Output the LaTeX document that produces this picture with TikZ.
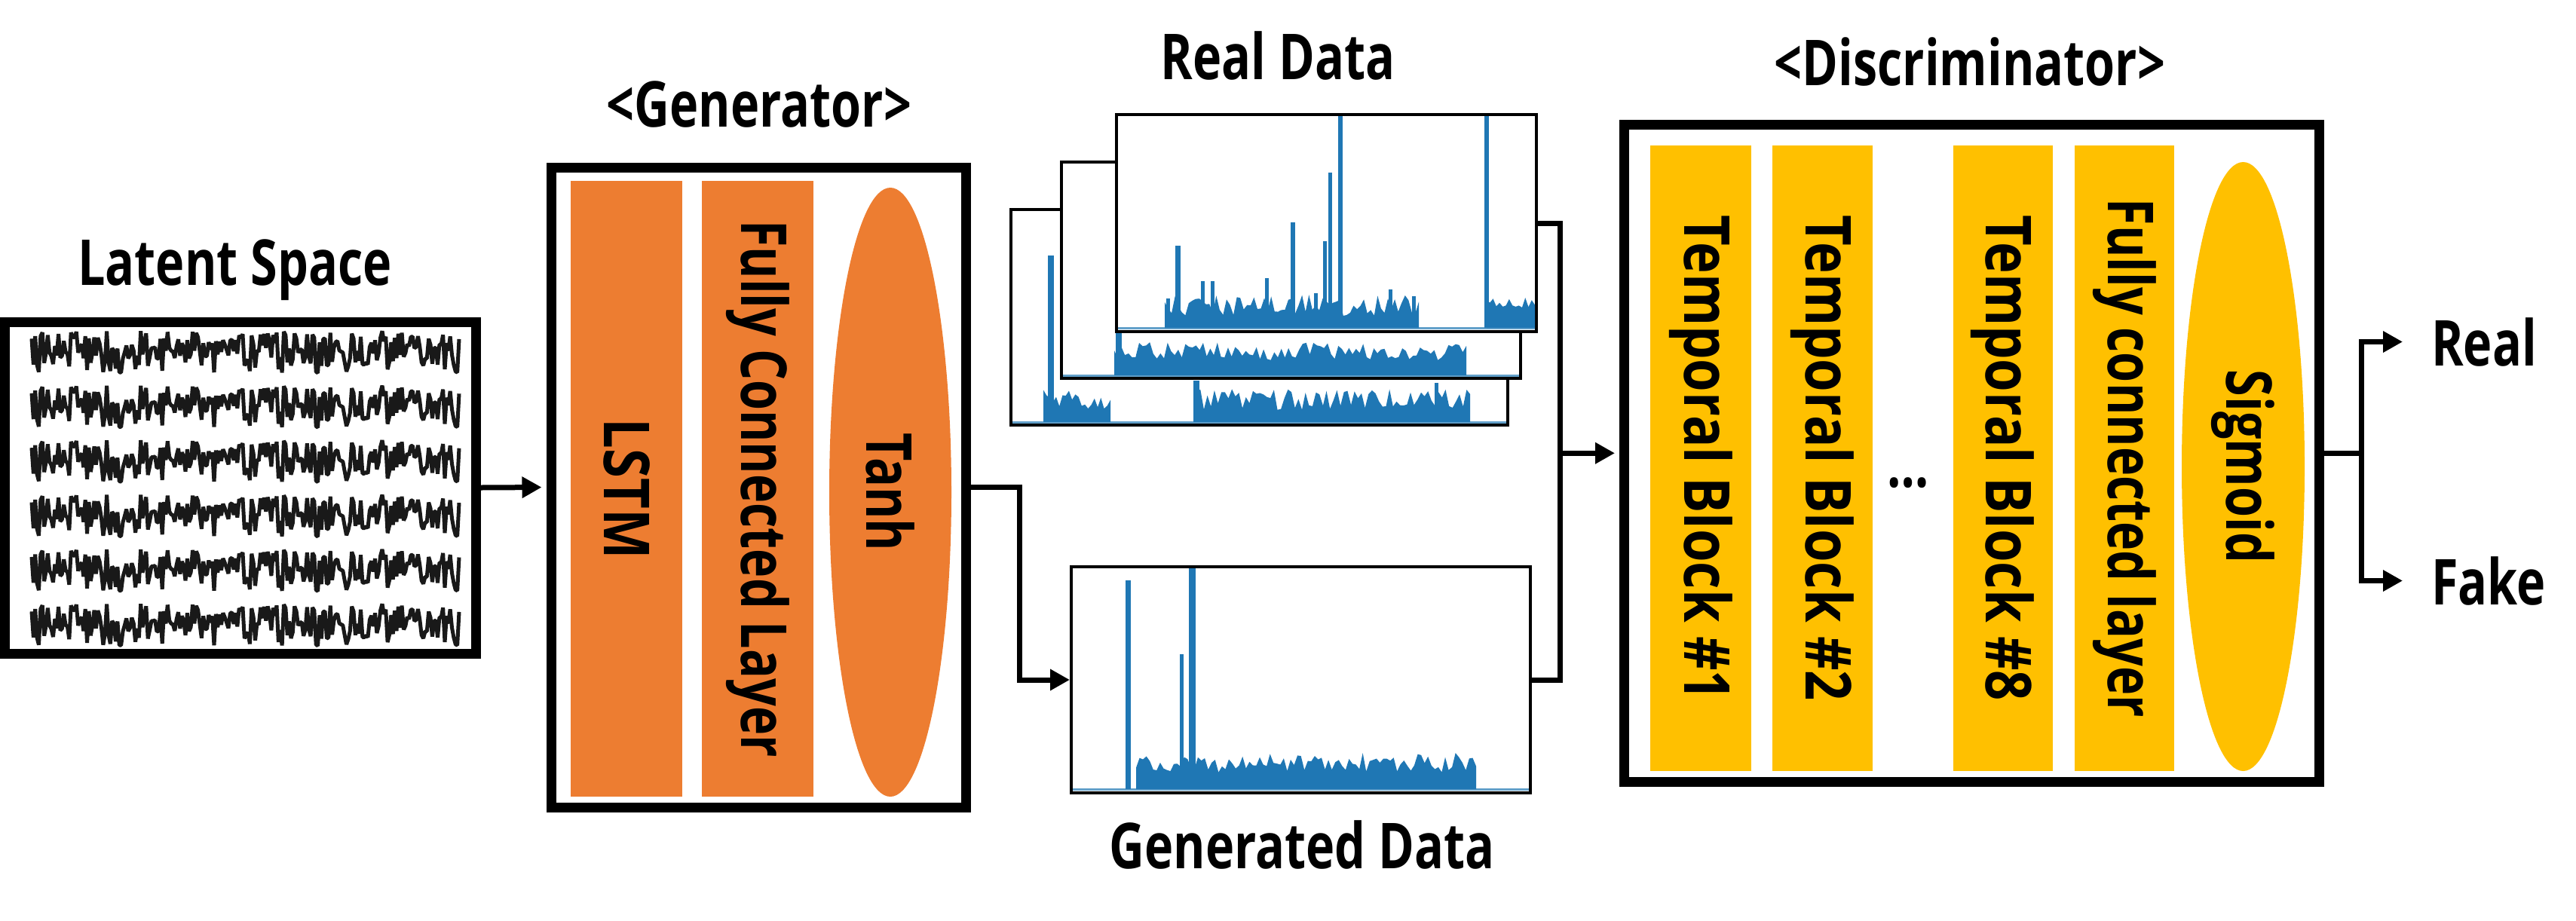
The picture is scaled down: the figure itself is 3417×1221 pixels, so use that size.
\documentclass[tikz,border=0pt]{standalone}
\usepackage{fontspec}
\usetikzlibrary{arrows.meta,shapes.geometric}
\newfontfamily\lblfont{Open Sans}[FakeStretch=0.77]
\definecolor{gOrange}{HTML}{ED7D31}
\definecolor{gGold}{HTML}{FFC000}
\definecolor{dBlue}{HTML}{1F77B4}
\newcommand{\lbl}{\lblfont\bfseries\fontsize{84}{96}\selectfont}
\newcommand{\wide}[1]{\scalebox{1.09}[1]{#1}}
% blue data helpers
\newcommand{\dband}[7]{\pgfmathsetseed{#7}\fill[dBlue] (#1,#3) -- plot[samples=#6, domain=#1:#2] (\x,{#3-#4-#5*rnd}) -- (#2,#3) -- cycle;}
\newcommand{\dspike}[4]{\fill[dBlue] ({#1-#4/2},#2) rectangle ({#1+#4/2},#3);}
\newcommand{\dbase}[3]{\draw[dBlue!70, line width=3pt] (#1,#3) -- (#2,#3);}
\tikzset{latwave/.pic={\pgfmathsetseed{2718}
  \draw[black!90, line width=5pt, line join=bevel] plot[samples=240, domain=0:567] (\x,{28*rand});}}
\begin{document}
\begin{tikzpicture}[x=1pt,y=-1pt,
  lbl/.style={font=\lbl, inner sep=0pt},
  frame/.style={draw, line width=13pt, rectangle, inner sep=0pt},
  plotbox/.style={draw, fill=white, line width=4pt, rectangle, inner sep=0pt},
  gLayer/.style={fill=gOrange, rectangle, rotate=-90, inner sep=0pt, font=\lbl},
  dLayer/.style={fill=gGold, rectangle, rotate=-90, inner sep=0pt, font=\lbl},
  conn/.style={line width=7pt, line join=miter},
  arr/.style={conn, -{Triangle[length=26pt,width=27pt]}}]
\fill[white] (0,0) rectangle (3417,1221);
\useasboundingbox (0,0) rectangle (3417,1221);

% ---------- Latent space ----------
\node[lbl, anchor=base] (latT) at (311.5,378) {Latent Space};
\node[frame, minimum width=625pt, minimum height=440pt] (latent) at (319,647) {};
\foreach \r in {0,...,5} \pic at (42,{467+72.4*\r}) {latwave};

% ---------- Generator ----------
\node[lbl, anchor=base] (genT) at (1007,168) {<Generator>};
\node[frame, minimum width=550pt, minimum height=849pt] (gen) at (1006,646.5) {};
\node[gLayer, minimum width=817pt, minimum height=148pt] (lstm) at (831,648.5) {\wide{LSTM}};
\node[gLayer, minimum width=817pt, minimum height=148pt] (fcg) at (1005,648.5) {Fully Connected Layer};
\node[gLayer, ellipse, minimum width=808pt, minimum height=162pt] (tanh) at (1181,653) {Tanh};

% ---------- Real data ----------
\node[lbl, anchor=base] (realT) at (1695,105) {Real Data};
\node[plotbox, minimum width=659pt, minimum height=286pt] (rback) at (1670.5,421) {};
\dbase{1343}{1998}{560}
\dspike{1394}{560}{339}{8}
\dband{1384}{1473}{560}{16}{28}{22}{11}
\dspike{1587}{560}{505}{8}
\dband{1583}{1950}{560}{16}{28}{80}{12}
\dspike{1905}{560}{508}{5}
\node[plotbox, minimum width=609pt, minimum height=287pt] (rmid) at (1712.5,358.5) {};
\dbase{1410}{2015}{498}
\dspike{1484}{498}{420}{8}
\dband{1478}{1945}{498}{20}{24}{100}{13}
\node[plotbox, minimum width=557pt, minimum height=288pt] (rfront) at (1759.5,296) {};
\dbase{1483}{2036}{435}
\dband{1545}{1882}{435}{16}{28}{75}{14}
\dspike{1549}{435}{396}{5}
\dspike{1562}{435}{326}{7}
\dspike{1595}{435}{373}{5}
\dspike{1608}{435}{373}{5}
\dspike{1680}{435}{369}{5}
\dspike{1715}{435}{295}{6}
\dspike{1745}{435}{389}{5}
\dspike{1757}{435}{320}{5}
\dspike{1764}{435}{229}{5}
\dspike{1778}{435}{154}{6}
\dspike{1844}{435}{384}{5}
\dspike{1875}{435}{393}{5}
\dspike{1972}{435}{154}{6}
\dband{1972}{2036}{435}{26}{14}{16}{15}

% ---------- Generated data ----------
\node[plotbox, minimum width=609pt, minimum height=300pt] (gdata) at (1725.5,902) {};
\dbase{1423}{2028}{1047}
\dband{1507}{1958}{1047}{22}{26}{100}{16}
\dspike{1496}{1047}{770}{7}
\dspike{1567}{1047}{868}{5}
\dspike{1581}{1047}{754}{9}
\node[lbl, anchor=base] (gdataT) at (1727,1152) {Generated Data};

% ---------- Discriminator ----------
\node[lbl, anchor=base] (discT) at (2613,113) {<Discriminator>};
\node[frame, minimum width=922pt, minimum height=872.5pt] (disc) at (2615.5,601.25) {};
\node[dLayer, minimum width=830.5pt, minimum height=133.5pt] (tb1) at (2256,607.75) {\wide{Temporal Block \#1}};
\node[dLayer, minimum width=830.5pt, minimum height=133pt] (tb2) at (2417.5,607.75) {\wide{Temporal Block \#2}};
\node[lbl, anchor=base] (dots) at (2531,646) {…};
\node[dLayer, minimum width=830.5pt, minimum height=132.5pt] (tb8) at (2656.75,607.75) {\wide{Temporal Block \#8}};
\node[dLayer, minimum width=830.5pt, minimum height=132pt] (fcd) at (2818,607.75) {Fully connected layer};
\node[dLayer, ellipse, minimum width=808pt, minimum height=163pt] (sig) at (2975.5,619) {Sigmoid};

% ---------- outputs ----------
\node[lbl, anchor=base west] (real) at (3225,485) {Real};
\node[lbl, anchor=base west] (fake) at (3225,802) {Fake};

% ---------- connectors ----------
\coordinate (gjoin) at (1352,0);
\coordinate (djoin) at (2069,0);
\coordinate (ojoin) at (3132,0);
\draw[arr, shorten >=6pt] (latent.east) -- (gen.west);
\draw[arr] (gen.east) -- (gen.east -| gjoin) |- (gdata.west);
\draw[conn] (rfront.east) -- (rfront.east -| djoin) -- (djoin |- gdata.east) -- (gdata.east);
\draw[arr, shorten >=6pt] (djoin |- disc.west) -- (disc.west);
\draw[conn] (disc.east) -- (disc.east -| ojoin);
\draw[arr, shorten >=38pt] (disc.east -| ojoin) |- (real.west);
\draw[arr, shorten >=38pt] (disc.east -| ojoin) |- (fake.west);
\end{tikzpicture}
\end{document}
